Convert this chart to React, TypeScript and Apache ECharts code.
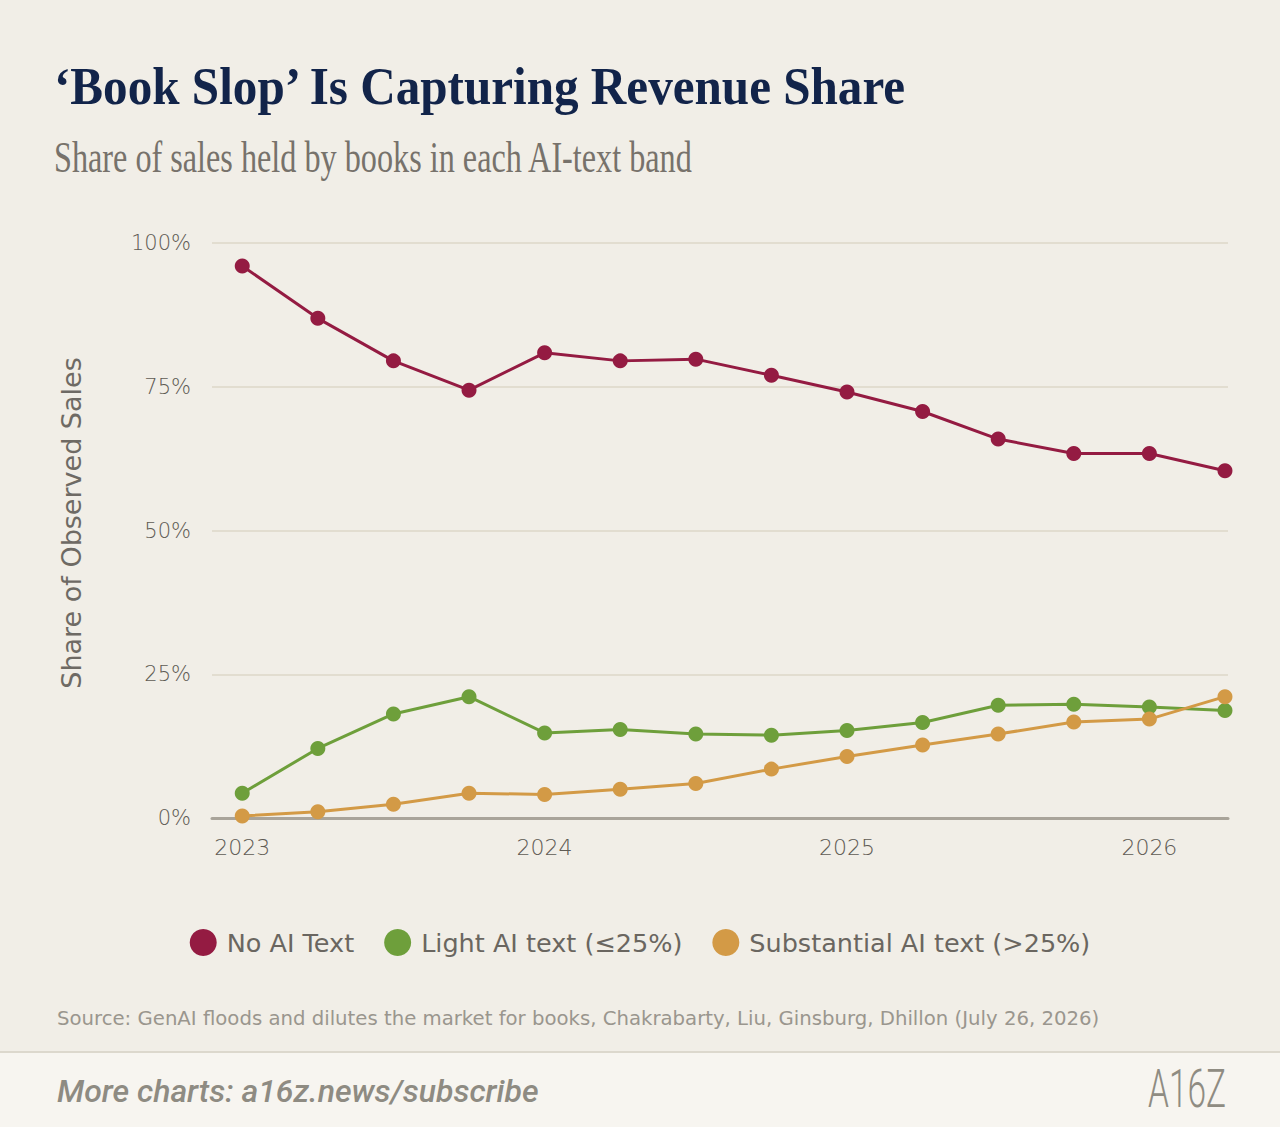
import React, { useEffect, useRef } from "react";
import * as echarts from "echarts";

const quarters = [2023.0, 2023.25, 2023.5, 2023.75, 2024.0, 2024.25, 2024.5, 2024.75, 2025.0, 2025.25, 2025.5, 2025.75, 2026.0, 2026.25];
const noAI = [96.0, 86.9, 79.5, 74.4, 80.9, 79.5, 79.8, 77.0, 74.1, 70.7, 65.9, 63.4, 63.4, 60.4];
const lightAI = [4.3, 12.1, 18.1, 21.1, 14.8, 15.4, 14.6, 14.4, 15.2, 16.6, 19.6, 19.8, 19.3, 18.7];
const substantialAI = [0.35, 1.1, 2.4, 4.3, 4.1, 5.0, 6.0, 8.5, 10.7, 12.7, 14.6, 16.7, 17.2, 21.1];
const yearTicks = [2023, 2024, 2025, 2026];
const seriesNames = ["No AI Text", "Light AI text (≤25%)", "Substantial AI text (>25%)"];
const colors = ["#941B42", "#6E9F3B", "#D39A46"];

const TITLE = "‘Book Slop’ Is Capturing Revenue Share";
const SUBTITLE = "Share of sales held by books in each AI-text band";
const Y_NAME = "Share of Observed Sales";
const SOURCE = "Source: GenAI floods and dilutes the market for books, Chakrabarty, Liu, Ginsburg, Dhillon (July 26, 2026)";
const FOOTER = "More charts: a16z.news/subscribe";

const SANS = "'DejaVu Sans', 'Noto Sans', sans-serif";
const ROBOTO = "Roboto, 'Noto Sans', sans-serif";
const SERIF = "'Liberation Serif', 'DejaVu Serif', serif";

export default function App() {
  const ref = useRef<HTMLDivElement>(null);
  useEffect(() => {
    document.body.style.margin = "0";
    if (!ref.current) return;
    const chart = echarts.init(ref.current, null, { renderer: "svg" });
    const pairs = (vals: number[]) => quarters.map((q, i) => [q, vals[i]]);
    const mk = (name: string, vals: number[], color: string) => ({
      name,
      type: "line",
      data: pairs(vals),
      symbol: "circle",
      symbolSize: 15,
      lineStyle: { color, width: 3 },
      itemStyle: { color },
      emphasis: { disabled: true },
    });
    chart.setOption({
      animation: false,
      backgroundColor: "#F1EEE7",
      grid: { left: 212, right: 52, top: 243, bottom: 309 },
      xAxis: {
        type: "value",
        min: 2022.9,
        max: 2026.26,
        axisLine: { show: true, lineStyle: { color: "#A9A49A", width: 3 } },
        axisTick: { show: false },
        splitLine: { show: false },
        axisLabel: {
          customValues: yearTicks,
          formatter: (v: number) => String(v),
          color: "#5F5B54",
          fontFamily: SANS,
          fontWeight: 300,
          fontSize: 22,
          margin: 18,
        },
      },
      yAxis: {
        type: "value",
        min: 0,
        max: 100,
        interval: 25,
        axisLine: { show: false },
        axisTick: { show: false },
        splitLine: { lineStyle: { color: "#E2DDD0", width: 2 } },
        axisLabel: {
          formatter: "{value}%",
          color: "#5F5B54",
          fontFamily: SANS,
          fontWeight: 300,
          fontSize: 21,
          margin: 21,
        },
      },
      legend: {
        data: seriesNames,
        top: 924,
        left: "center",
        icon: "circle",
        itemWidth: 27,
        itemHeight: 27,
        itemGap: 30,
        textStyle: { color: "#6A6660", fontFamily: SANS, fontSize: 25.5, padding: [0, 0, 0, 5] },
      },
      series: [
        mk(seriesNames[0], noAI, colors[0]),
        mk(seriesNames[1], lightAI, colors[1]),
        mk(seriesNames[2], substantialAI, colors[2]),
      ],
      graphic: [
        {
          type: "text",
          x: 54,
          y: 86,
          scaleX: 0.927,
          style: { text: TITLE, fill: "#12244A", font: `bold 53px ${SERIF}`, textVerticalAlign: "middle" },
        },
        {
          type: "text",
          x: 54,
          y: 156,
          scaleX: 0.716,
          style: { text: SUBTITLE, fill: "#77726B", font: `normal 45px ${SERIF}`, textVerticalAlign: "middle" },
        },
        {
          type: "text",
          x: 71,
          y: 523,
          rotation: Math.PI / 2,
          style: { text: Y_NAME, fill: "#6E6A64", font: `normal 27px ${SANS}`, textAlign: "center", textVerticalAlign: "middle" },
        },
        {
          type: "text",
          x: 57,
          y: 1018,
          style: { text: SOURCE, fill: "#9A968E", font: `normal 19.7px ${SANS}`, textVerticalAlign: "middle" },
        },
        {
          type: "rect",
          shape: { x: 0, y: 1052, width: 1280, height: 75 },
          style: { fill: "#F7F5F0" },
          z: -1,
        },
        {
          type: "line",
          shape: { x1: 0, y1: 1052, x2: 1280, y2: 1052 },
          style: { stroke: "#DCD8CD", lineWidth: 2 },
        },
        {
          type: "text",
          x: 57,
          y: 1091,
          style: { text: FOOTER, fill: "#8E8B82", font: `italic 500 32px ${ROBOTO}`, textVerticalAlign: "middle" },
        },
        {
          type: "text",
          x: 1148,
          y: 1088,
          scaleX: 0.62,
          style: { text: "A16Z", fill: "#8F8C82", font: `300 54px ${ROBOTO}`, textVerticalAlign: "middle" },
        },
      ],
    });
    return () => chart.dispose();
  }, []);
  return <div ref={ref} style={{ width: 1280, height: 1127 }} />;
}
